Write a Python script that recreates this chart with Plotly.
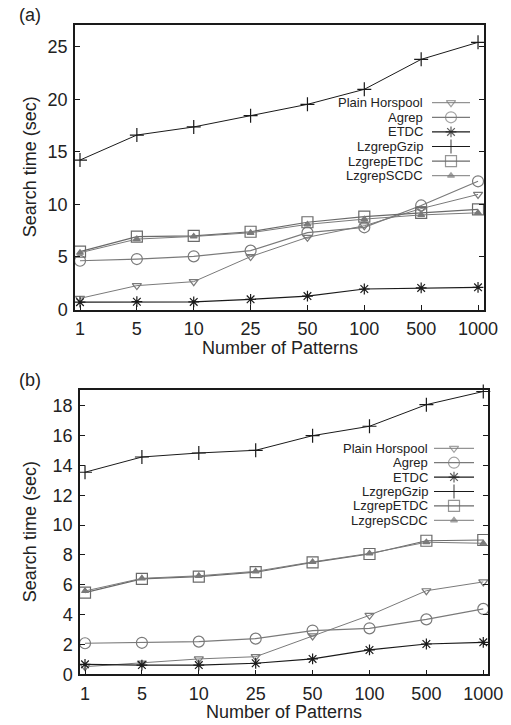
import plotly.graph_objects as go

# Number of search patterns (categorical x axis)
patterns = ["1", "5", "10", "25", "50", "100", "500", "1000"]
series_names = ["Plain Horspool", "Agrep", "ETDC", "LzgrepGzip", "LzgrepETDC", "LzgrepSCDC"]

# Panel (a): search time in seconds
horspool_a = [1.06, 2.27, 2.65, 5.03, 6.87, 7.97, 9.6, 10.95]
agrep_a = [4.64, 4.80, 5.06, 5.60, 7.31, 7.82, 9.9, 12.2]
etdc_a = [0.70, 0.74, 0.72, 0.97, 1.28, 1.95, 2.05, 2.11]
gzip_a = [14.22, 16.6, 17.37, 18.44, 19.52, 20.95, 23.8, 25.42]
lzetdc_a = [5.5, 6.93, 7.0, 7.4, 8.3, 8.83, 9.2, 9.53]
lzscdc_a = [5.4, 6.7, 6.95, 7.3, 8.1, 8.6, 9.0, 9.2]

# Panel (b): search time in seconds
horspool_b = [0.51, 0.75, 1.03, 1.18, 2.57, 3.95, 5.6, 6.19]
agrep_b = [2.08, 2.11, 2.19, 2.39, 2.93, 3.08, 3.68, 4.38]
etdc_b = [0.67, 0.62, 0.62, 0.74, 1.03, 1.63, 2.03, 2.14]
gzip_b = [13.54, 14.56, 14.83, 15.01, 15.99, 16.62, 18.07, 18.95]
lzetdc_b = [5.47, 6.39, 6.54, 6.84, 7.5, 8.06, 8.95, 9.0]
lzscdc_b = [5.58, 6.43, 6.6, 6.9, 7.53, 8.1, 8.85, 8.78]

yticks_a = [0, 5, 10, 15, 20, 25]
yticks_b = [0, 2, 4, 6, 8, 10, 12, 14, 16, 18]

W, H = 511, 725
GRAY = "#7a7a7a"
DARK = "#1a1a1a"
TXT = "#222222"
FONT = "Liberation Sans, Arial, Helvetica, sans-serif"

styles = {
    "Plain Horspool": dict(color=GRAY, symbol="triangle-down-open", size=8, lw=1.0),
    "Agrep": dict(color=GRAY, symbol="circle-open", size=11, lw=1.2),
    "ETDC": dict(color=DARK, symbol="asterisk-open", size=9, lw=1.2),
    "LzgrepGzip": dict(color=DARK, symbol="cross-thin-open", size=10, lw=1.0),
    "LzgrepETDC": dict(color="#6a6a6a", symbol="square-open", size=11, lw=1.2),
    "LzgrepSCDC": dict(color=GRAY, symbol="triangle-up", size=6, lw=1.0),
}

panels = [
    dict(xa="x", ya="y", data=[horspool_a, agrep_a, etdc_a, gzip_a, lzetdc_a, lzscdc_a],
         px=(75, 484), py=(25, 309.5), yr=[0, 27.07], xr=[-0.088, 7.105], ticks=yticks_a,
         label="(a)", leg_text_x=425, leg_y0=102.7, leg_dy=14.6, leg_line=(432, 470)),
    dict(xa="x2", ya="y2", data=[horspool_b, agrep_b, etdc_b, gzip_b, lzetdc_b, lzscdc_b],
         px=(80, 488), py=(390, 674.3), yr=[0, 19.05], xr=[-0.088, 7.083], ticks=yticks_b,
         label="(b)", leg_text_x=430, leg_y0=448.3, leg_dy=14.4, leg_line=(434, 474)),
]

fig = go.Figure()
annotations = []
layout = {}


def page_text(text, x, y, size=18, angle=0):
    """Text placed by its centre in page pixel coordinates."""
    return dict(text=text, x=x, y=y, xref="x3", yref="y3", xanchor="center",
                yanchor="middle", textangle=angle, showarrow=False,
                font=dict(family=FONT, size=size, color=TXT))


for i, p in enumerate(panels):
    for name, vals in zip(series_names, p["data"]):
        s = styles[name]
        fig.add_trace(go.Scatter(
            x=patterns, y=vals, mode="lines+markers", name=name, showlegend=False,
            xaxis=p["xa"], yaxis=p["ya"], cliponaxis=False,
            line=dict(color=s["color"], width=s["lw"]),
            marker=dict(symbol=s["symbol"], size=s["size"], color=s["color"],
                        line=dict(color=s["color"], width=1.2)),
        ))
    xkey = "xaxis" if i == 0 else "xaxis2"
    ykey = "yaxis" if i == 0 else "yaxis2"
    layout[xkey] = dict(
        domain=[p["px"][0] / W, p["px"][1] / W], anchor=p["ya"], type="category",
        categoryorder="array", categoryarray=patterns, range=p["xr"], automargin=False,
        showline=True, linecolor=DARK, linewidth=1.5, mirror=True,
        ticks="inside", ticklen=5, tickcolor=DARK, tickwidth=1,
        showgrid=False, zeroline=False,
        tickfont=dict(family=FONT, size=18, color=TXT), ticklabelstandoff=2,
    )
    layout[ykey] = dict(
        domain=[1 - p["py"][1] / H, 1 - p["py"][0] / H], anchor=p["xa"], range=p["yr"],
        tickvals=p["ticks"], automargin=False,
        showline=True, linecolor=DARK, linewidth=1.5, mirror="allticks",
        ticks="inside", ticklen=5, tickcolor=DARK, tickwidth=1,
        showgrid=False, zeroline=False,
        tickfont=dict(family=FONT, size=18, color=TXT), ticklabelstandoff=2,
    )
    cx = (p["px"][0] + p["px"][1]) / 2
    cy = (p["py"][0] + p["py"][1]) / 2
    annotations.append(page_text("Number of Patterns", cx, p["py"][1] + 38))
    annotations.append(page_text("Search time (sec)", 30, cy, angle=-90))
    annotations.append(page_text(p["label"], 30, p["py"][0] - 10))

    # Key box inside the plot: text right-aligned, sample line and symbol to its right
    for k, name in enumerate(series_names):
        s = styles[name]
        ry = p["leg_y0"] + k * p["leg_dy"]
        x0, x1 = p["leg_line"]
        fig.add_trace(go.Scatter(
            x=[x0, (x0 + x1) / 2, x1], y=[ry, ry, ry], mode="lines+markers",
            xaxis="x3", yaxis="y3", showlegend=False, hoverinfo="skip", cliponaxis=False,
            line=dict(color=s["color"], width=s["lw"]),
            marker=dict(symbol=s["symbol"], size=[0, s["size"], 0], color=s["color"],
                        line=dict(color=s["color"], width=[0, 1.2, 0])),
        ))
        annotations.append(dict(text=name, x=p["leg_text_x"], y=ry, xref="x3", yref="y3",
                                xanchor="right", yanchor="middle", showarrow=False,
                                font=dict(family=FONT, size=13, color=TXT)))

# Full-page pixel coordinate system used for the key boxes and titles
layout["xaxis3"] = dict(domain=[0, 1], range=[0, W], anchor="y3", visible=False,
                        fixedrange=True, automargin=False)
layout["yaxis3"] = dict(domain=[0, 1], range=[H, 0], anchor="x3", visible=False,
                        fixedrange=True, automargin=False)

fig.update_layout(
    width=W, height=H, margin=dict(l=0, r=0, t=0, b=0, autoexpand=False),
    paper_bgcolor="white", plot_bgcolor="rgba(0,0,0,0)",
    annotations=annotations, showlegend=False, **layout,
)

fig.write_html("out.html", config={"displayModeBar": False})
